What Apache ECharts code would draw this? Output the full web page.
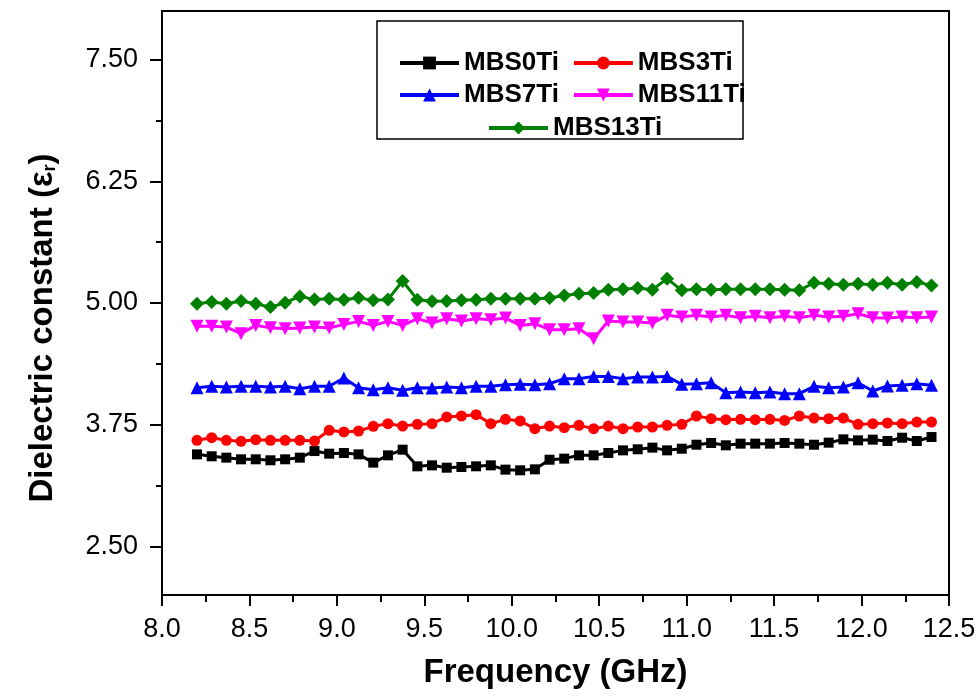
<!DOCTYPE html>
<html>
<head>
<meta charset="utf-8">
<script src="https://cdn.jsdelivr.net/npm/echarts@6/dist/echarts.min.js"></script>
<style>
  html, body { margin: 0; padding: 0; background: #fff; }
  #grafico { width: 979px; height: 698px; }
</style>
</head>
<body>
<div id="grafico"></div>
<script>
const frecuencias = [8.2, 8.284, 8.368, 8.452, 8.536, 8.62, 8.704, 8.788, 8.872, 8.956,
    9.04, 9.124, 9.208, 9.292, 9.376, 9.46, 9.544, 9.628, 9.712, 9.796,
    9.88, 9.964, 10.048, 10.132, 10.216, 10.3, 10.384, 10.468, 10.552, 10.636,
    10.72, 10.804, 10.888, 10.972, 11.056, 11.14, 11.224, 11.308, 11.392, 11.476,
    11.56, 11.644, 11.728, 11.812, 11.896, 11.98, 12.064, 12.148, 12.232, 12.316, 12.4];

const mbs0 = [3.445, 3.425, 3.411, 3.394, 3.394, 3.384, 3.394, 3.411, 3.479, 3.452,
    3.459, 3.445, 3.360, 3.435, 3.493, 3.322, 3.332, 3.308, 3.315, 3.322,
    3.332, 3.288, 3.281, 3.291, 3.390, 3.401, 3.435, 3.435, 3.459, 3.486,
    3.497, 3.514, 3.486, 3.503, 3.544, 3.562, 3.538, 3.555, 3.555, 3.555,
    3.562, 3.555, 3.544, 3.565, 3.599, 3.589, 3.596, 3.582, 3.616, 3.582, 3.623];

const mbs3 = [3.589, 3.616, 3.589, 3.579, 3.596, 3.589, 3.589, 3.589, 3.582, 3.692,
    3.675, 3.685, 3.733, 3.760, 3.736, 3.753, 3.760, 3.829, 3.839, 3.853,
    3.760, 3.805, 3.788, 3.709, 3.736, 3.719, 3.743, 3.709, 3.736, 3.709,
    3.726, 3.726, 3.743, 3.753, 3.839, 3.812, 3.801, 3.805, 3.801, 3.805,
    3.794, 3.839, 3.818, 3.812, 3.818, 3.753, 3.760, 3.767, 3.760, 3.777, 3.777];

const mbs7 = [4.130, 4.144, 4.137, 4.144, 4.144, 4.137, 4.144, 4.120, 4.144, 4.144,
    4.229, 4.130, 4.109, 4.130, 4.103, 4.130, 4.126, 4.137, 4.130, 4.144,
    4.144, 4.161, 4.164, 4.161, 4.171, 4.222, 4.222, 4.246, 4.246, 4.222,
    4.239, 4.239, 4.246, 4.164, 4.171, 4.181, 4.079, 4.085, 4.079, 4.085,
    4.068, 4.068, 4.144, 4.130, 4.137, 4.181, 4.096, 4.147, 4.154, 4.171, 4.154];

const mbs11 = [4.760, 4.760, 4.753, 4.685, 4.770, 4.746, 4.736, 4.743, 4.753, 4.743,
    4.780, 4.811, 4.770, 4.811, 4.770, 4.839, 4.794, 4.839, 4.815, 4.839,
    4.828, 4.845, 4.770, 4.787, 4.726, 4.726, 4.736, 4.633, 4.815, 4.804,
    4.804, 4.794, 4.873, 4.856, 4.873, 4.856, 4.873, 4.849, 4.863, 4.849,
    4.863, 4.849, 4.873, 4.856, 4.863, 4.890, 4.849, 4.845, 4.856, 4.849, 4.856];

const mbs13 = [4.993, 5.010, 4.993, 5.020, 4.993, 4.958, 5.003, 5.068, 5.037, 5.044,
    5.034, 5.054, 5.027, 5.037, 5.226, 5.034, 5.017, 5.020, 5.027, 5.034,
    5.044, 5.044, 5.044, 5.044, 5.051, 5.078, 5.095, 5.102, 5.136, 5.140,
    5.154, 5.136, 5.250, 5.130, 5.140, 5.136, 5.140, 5.140, 5.140, 5.140,
    5.136, 5.130, 5.208, 5.198, 5.188, 5.198, 5.188, 5.208, 5.188, 5.215, 5.181];

const ticksY = [2.5, 3.75, 5.0, 6.25, 7.5];
const ticksMenoresY = [3.125, 4.375, 5.625, 6.875];

const fuente = "'Liberation Sans', Arial, sans-serif";

function serie(nombre, datos, color, simbolo, tam, rot) {
    return {
        name: nombre,
        type: 'line',
        data: frecuencias.map((f, i) => [f, datos[i]]),
        symbol: simbolo,
        symbolSize: tam,
        symbolRotate: rot || 0,
        showSymbol: true,
        lineStyle: { color: color, width: 3 },
        itemStyle: { color: color },
        animation: false
    };
}

function leyenda(datos, left, top) {
    return {
        data: datos,
        left: left,
        top: top,
        itemWidth: 59,
        itemHeight: 16,
        itemGap: 13,
        lineStyle: { width: 4 },
        textStyle: { fontFamily: fuente, fontWeight: 'bold', fontSize: 26, color: '#000' }
    };
}

let grafico = echarts.init(document.getElementById('grafico'));

let option = {
    backgroundColor: '#fff',
    animation: false,
    grid: {
        left: 162, top: 11, right: 30, bottom: 103,
        show: true, borderColor: '#000', borderWidth: 2
    },
    legend: [
        leyenda(['MBS0Ti', 'MBS3Ti'], 393, 45),
        leyenda(['MBS7Ti', 'MBS11Ti'], 393, 77),
        leyenda(['MBS13Ti'], 482, 110)
    ],
    graphic: [
        {
            type: 'rect',
            shape: { x: 377, y: 21, width: 366, height: 118 },
            style: { fill: 'transparent', stroke: '#000', lineWidth: 1.5 },
            z: 1
        },
        {
            type: 'text',
            x: 43,
            y: 328,
            rotation: Math.PI / 2,
            style: {
                text: 'Dielectric constant (ε{sub|r})',
                fontFamily: fuente,
                fontWeight: 'bold',
                fontSize: 33,
                fill: '#000',
                align: 'center',
                verticalAlign: 'middle',
                rich: {
                    sub: { fontFamily: fuente, fontWeight: 'bold', fontSize: 18, verticalAlign: 'bottom', padding: [12, 0, 0, 0] }
                }
            }
        }
    ],
    xAxis: {
        type: 'value',
        min: 8,
        max: 12.5,
        interval: 0.5,
        name: 'Frequency (GHz)',
        nameLocation: 'middle',
        nameGap: 61,
        nameTextStyle: { fontFamily: fuente, fontWeight: 'bold', fontSize: 33, color: '#000' },
        axisLine: { lineStyle: { color: '#000', width: 2 } },
        axisTick: { length: 11, lineStyle: { color: '#000', width: 2 } },
        minorTick: { show: true, splitNumber: 2, length: 7, lineStyle: { color: '#000', width: 2 } },
        axisLabel: {
            margin: 21,
            fontFamily: fuente,
            fontSize: 27,
            color: '#000',
            formatter: v => v.toFixed(1)
        },
        splitLine: { show: false }
    },
    yAxis: [
        {
            type: 'value',
            min: 2,
            max: 8,
            axisLine: { show: true, lineStyle: { color: '#000', width: 2 } },
            axisTick: { show: true, customValues: ticksY, length: 12, lineStyle: { color: '#000', width: 2 } },
            axisLabel: {
                customValues: ticksY,
                margin: 24,
                fontFamily: fuente,
                fontSize: 27,
                color: '#000',
                formatter: v => v.toFixed(2)
            },
            splitLine: { show: false }
        },
        {
            type: 'value',
            min: 2,
            max: 8,
            position: 'left',
            axisLine: { show: false },
            axisTick: { show: true, customValues: ticksMenoresY, length: 6, lineStyle: { color: '#000', width: 2 } },
            axisLabel: { show: false },
            splitLine: { show: false }
        }
    ],
    series: [
        serie('MBS0Ti', mbs0, '#000000', 'rect', 10),
        serie('MBS3Ti', mbs3, '#ff0000', 'circle', 11),
        serie('MBS7Ti', mbs7, '#0000ff', 'triangle', 13),
        serie('MBS11Ti', mbs11, '#ff00ff', 'triangle', 13, 180),
        serie('MBS13Ti', mbs13, '#008000', 'diamond', 14)
    ]
};

grafico.setOption(option);
</script>
</body>
</html>
